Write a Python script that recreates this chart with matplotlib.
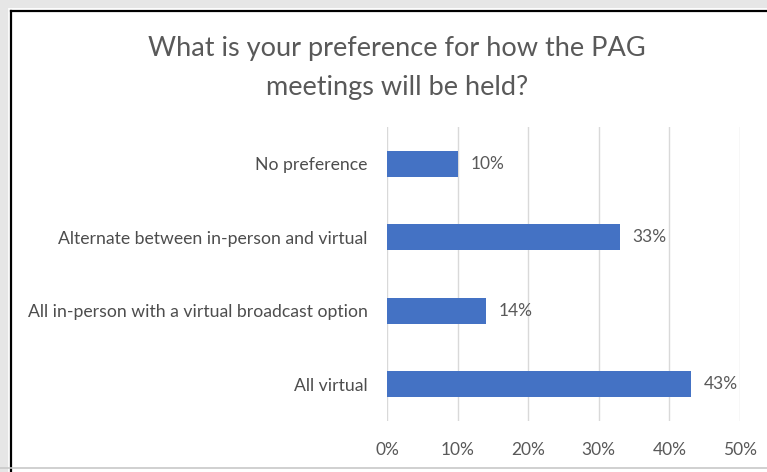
import matplotlib.pyplot as plt
from matplotlib.lines import Line2D

plt.rcParams["font.family"] = ["Lato", "DejaVu Sans"]

# data
categories = [
    "No preference",
    "Alternate between in-person and virtual",
    "All in-person with a virtual broadcast option",
    "All virtual",
]
shares = [10, 33, 14, 43]
value_labels = ["10%", "33%", "14%", "43%"]
xticks = [0, 10, 20, 30, 40, 50]
xtick_labels = ["0%", "10%", "20%", "30%", "40%", "50%"]
title = "What is your preference for how the PAG\nmeetings will be held?"

BAR_COLOR = "#4472C4"
TEXT_COLOR = "#595959"
GRID_COLOR = "#D9D9D9"

fig = plt.figure(figsize=(7.67, 4.72), dpi=100)
fig.patch.set_facecolor("white")

# frame like a screenshot border
fig.add_artist(Line2D([0, 1], [1 - 2 / 472, 1 - 2 / 472], color="#E6E6E6", lw=8))
fig.add_artist(Line2D([0.005, 0.005], [0, 1], color="#E6E6E6", lw=6))
fig.add_artist(Line2D([11 / 767, 1], [1 - 11 / 472, 1 - 11 / 472], color="black", lw=1.6))
fig.add_artist(Line2D([11 / 767, 11 / 767], [0, 1 - 11 / 472], color="black", lw=1.6))
fig.add_artist(Line2D([0, 1], [4 / 472, 4 / 472], color="#C8C8C8", lw=1.2))

ax = fig.add_axes([387 / 767, 1 - 421 / 472, (740 - 387) / 767, (421 - 127) / 472])
ypos = list(range(len(categories)))
ax.barh(ypos, shares, height=0.35, color=BAR_COLOR, zorder=3)
ax.set_ylim(len(categories) - 0.5, -0.5)
ax.set_xlim(0, 50)

for y, v, lab in zip(ypos, shares, value_labels):
    ax.text(v + 1.8, y, lab, va="center", ha="left", fontsize=12.5, color=TEXT_COLOR)

ax.set_yticks(ypos)
ax.set_yticklabels(categories, fontsize=12.7, color="#4D4D4D")
ax.set_xticks(xticks)
ax.set_xticklabels(xtick_labels, fontsize=12.5, color=TEXT_COLOR)
ax.tick_params(axis="both", length=0)
ax.tick_params(axis="y", pad=14)
ax.tick_params(axis="x", pad=15)
ax.grid(axis="x", color=GRID_COLOR, lw=1, zorder=0)
for s in ax.spines.values():
    s.set_visible(False)

fig.text(397 / 767, 1 - 68 / 472, title, ha="center", va="center",
         fontsize=19.5, color=TEXT_COLOR, linespacing=1.7)

fig.savefig("out.png", dpi=100)
